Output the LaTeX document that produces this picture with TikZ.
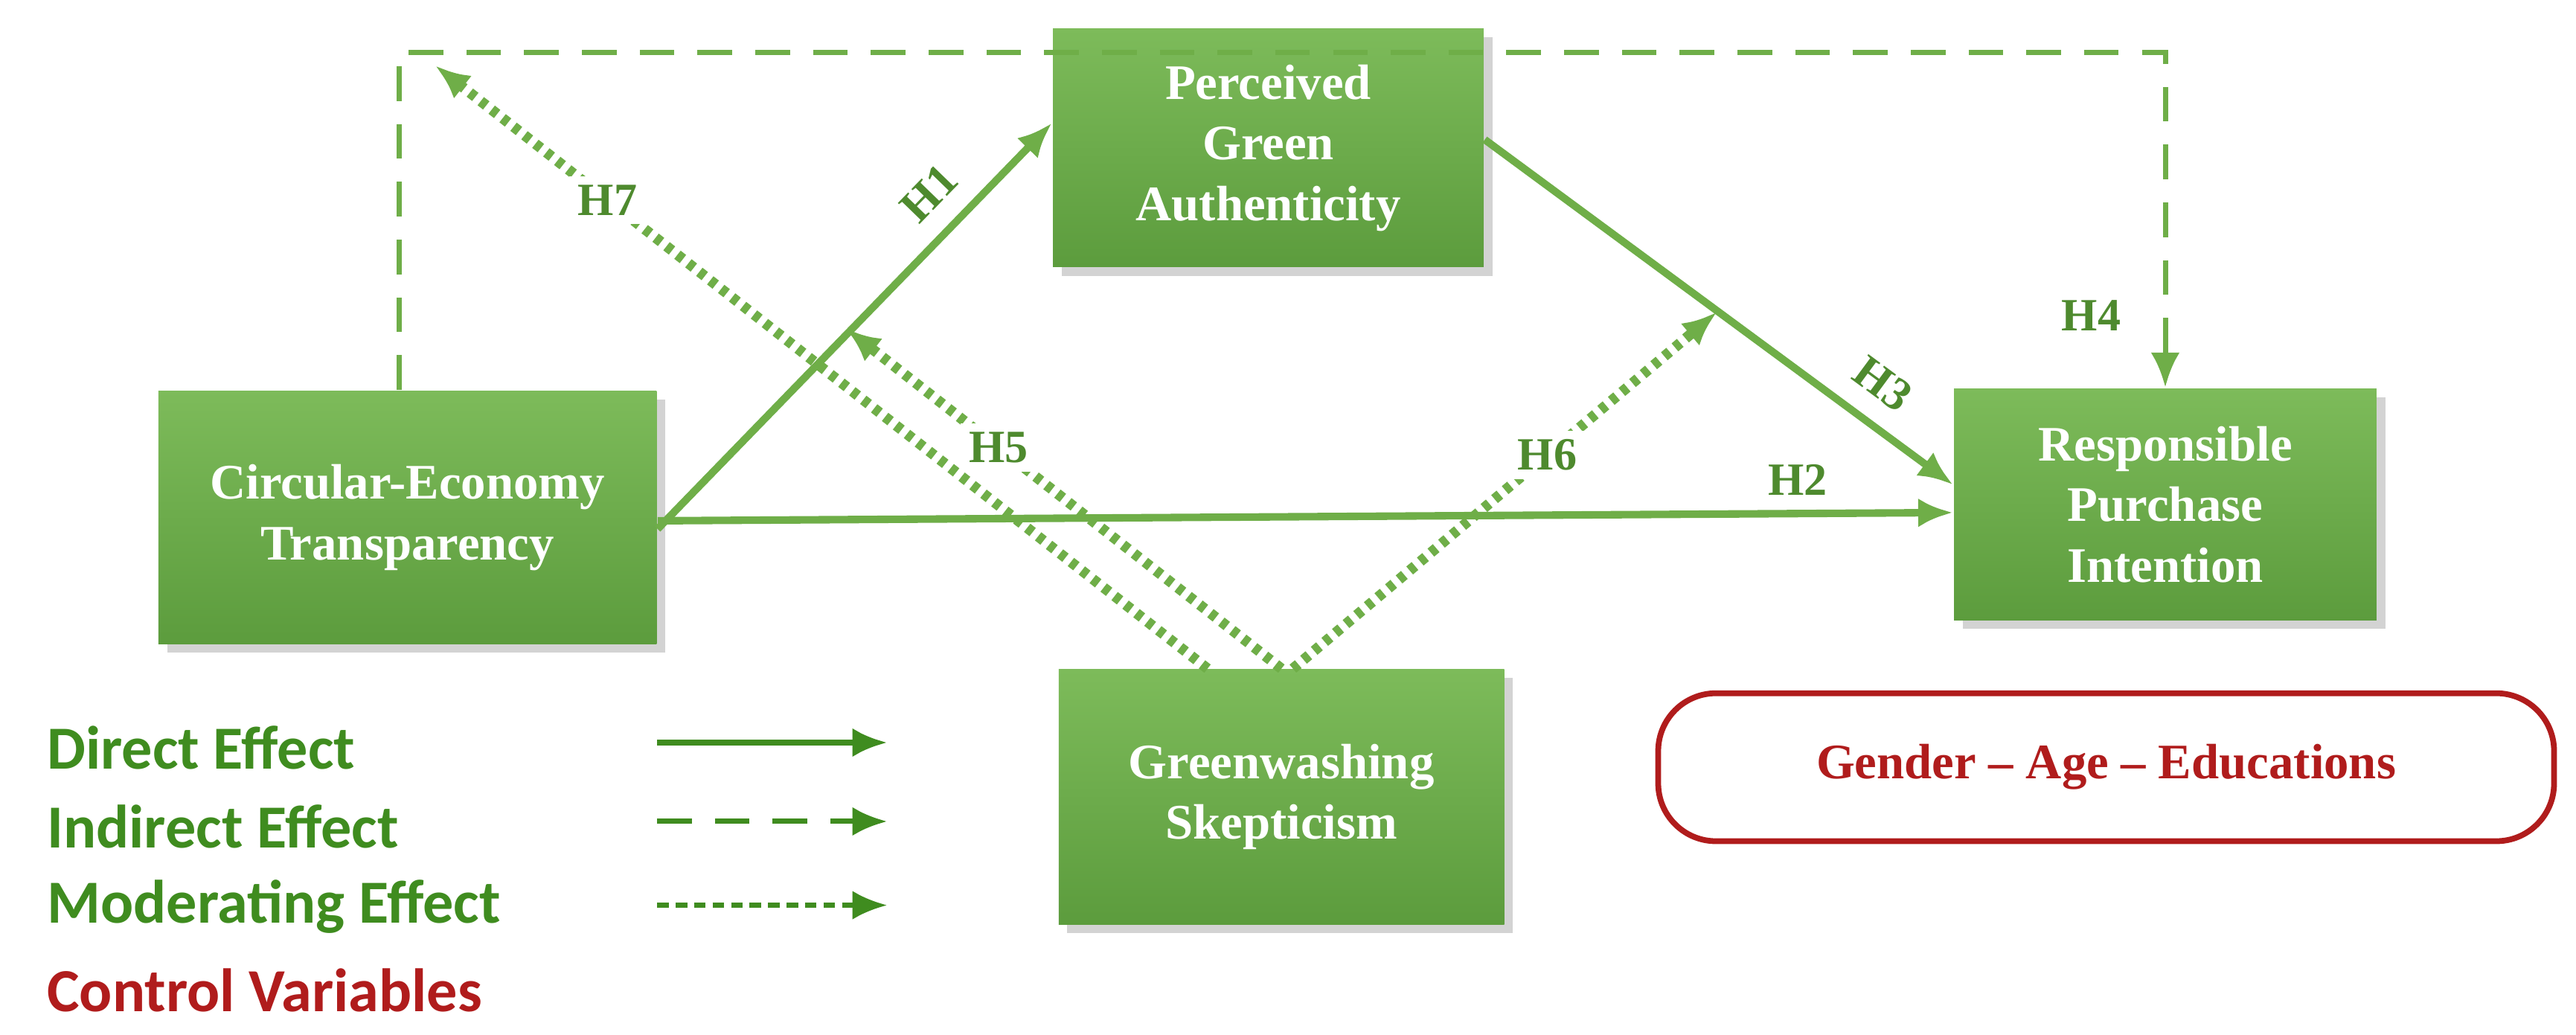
\documentclass[tikz,border=0pt]{standalone}
\usepackage{fontspec}
\setmainfont{Liberation Serif}
\newfontfamily\legfont{Carlito}
\usetikzlibrary{arrows.meta,shadows}
\definecolor{gA}{HTML}{7DBB5A}
\definecolor{gB}{HTML}{5C9C3D}
\definecolor{ln}{HTML}{6FAE48}
\definecolor{lbl}{HTML}{4E8A2E}
\definecolor{leg}{HTML}{3F8C1F}
\definecolor{rd}{HTML}{B01C1C}
\begin{document}
\begin{tikzpicture}[x=0.01cm,y=-0.01cm,
 box/.style={draw=none,top color=gA,bottom color=gB,text=white,font=\bfseries\fontsize{8.6}{10.5}\selectfont,align=center,inner sep=0pt,drop shadow={opacity=0.35,shadow xshift=1.5pt,shadow yshift=-1.5pt}},
 arr/.style={draw=ln,line width=1.3pt,-{Latex[length=6pt,width=5pt]}},
 dsh/.style={arr,line width=0.9pt,dash pattern=on 6pt off 4pt},
 dot/.style={arr,line width=1.8pt,dash pattern=on 1.2pt off 1.2pt},
 lab/.style={text=lbl,font=\bfseries\fontsize{8}{9}\selectfont,fill=white,inner sep=1.5pt},
 legt/.style={anchor=west,font=\legfont\bfseries\fontsize{10.6}{12}\selectfont,inner sep=0pt}]
\useasboundingbox (0,0) rectangle (1568,630);
\node[box,minimum width=2.62cm,minimum height=1.45cm] (pga) at (772,90) {Perceived\\Green\\Authenticity};
\node[box,minimum width=3.03cm,minimum height=1.54cm] (cet) at (248,315) {Circular-Economy\\Transparency};
\node[box,minimum width=2.57cm,minimum height=1.41cm] (rpi) at (1318,307) {Responsible\\Purchase\\Intention};
\node[box,minimum width=2.71cm,minimum height=1.55cm] (gs) at (780,485) {Greenwashing\\Skepticism};
\node[draw=rd,line width=1pt,rounded corners=10pt,minimum width=5.45cm,minimum height=0.9cm,text=rd,font=\bfseries\fontsize{8.6}{10}\selectfont] (ctl) at (1282,467) {Gender -- Age -- Educations};
\coordinate (t7) at (265,40);
\coordinate (t5) at (515,200);
\coordinate (t6) at (1045,190);
\coordinate (c2) at (1318,32);
\coordinate (s7) at (735,407);
\coordinate (s5) at (780,407);
\coordinate (s6) at (787,407);
\draw[dot] (s7) -- node[lab,pos=0.777]{H7} (t7);
\draw[dot] (s5) -- node[lab,pos=0.65]{H5} (t5);
\draw[dot] (s6) -- node[lab,pos=0.6]{H6} (t6);
\draw[dsh] ([xshift=-0.05cm]cet.north) |- (c2) -- (rpi.north);
\node[lab] (h4) at (1273,192) {H4};
\draw[arr] ([yshift=-0.07cm]cet.east) -- node[lab,pos=0.76,sloped,above=2pt,fill=none]{H1} ([yshift=0.15cm]pga.west);
\draw[arr] ([yshift=0.05cm]pga.east) -- node[lab,pos=0.8,sloped,above=2pt,fill=none]{H3} ([yshift=0.12cm]rpi.west);
\draw[arr] ([yshift=-0.02cm]cet.east) -- node[lab,pos=0.88,above=1pt,fill=none]{H2} ([yshift=-0.05cm]rpi.west);
\node[legt,text=leg] (l1) at (28,455) {Direct Effect};
\node[legt,text=leg] (l2) at (28,503) {Indirect Effect};
\node[legt,text=leg] (l3) at (28,552) {Moderating Effect};
\node[legt,text=rd] (l4) at (28,603) {Control Variables};
\coordinate (a1) at (400,452); \coordinate (b1) at (540,452);
\coordinate (a2) at (400,500); \coordinate (b2) at (540,500);
\coordinate (a3) at (400,551); \coordinate (b3) at (540,551);
\draw[arr,line width=1pt,draw=leg] (a1) -- (b1);
\draw[dsh,draw=leg] (a2) -- (b2);
\draw[arr,draw=leg,line width=0.8pt,dash pattern=on 2pt off 1.2pt] (a3) -- (b3);
\end{tikzpicture}
\end{document}
